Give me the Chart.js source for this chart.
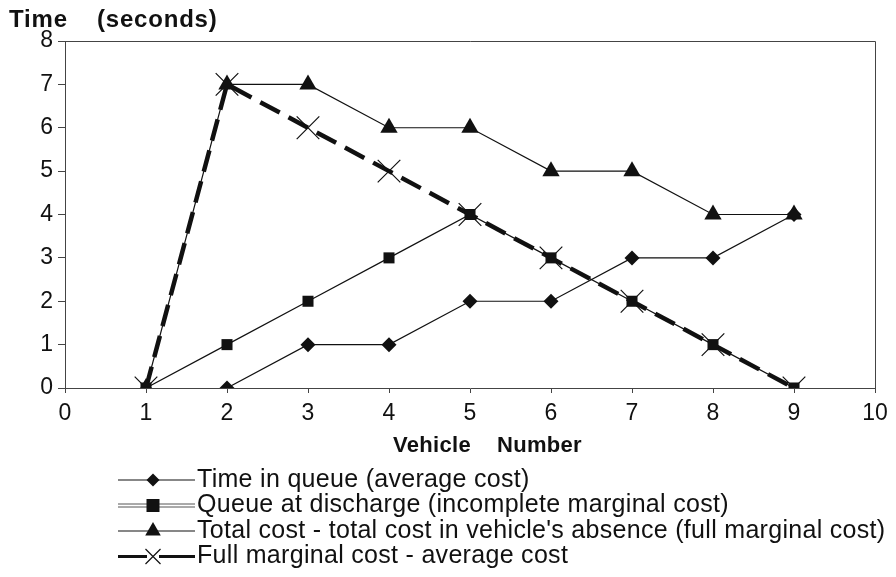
<!DOCTYPE html>
<html>
<head>
<meta charset="utf-8">
<script src="https://cdn.jsdelivr.net/npm/chart.js@4.4.0/dist/chart.umd.min.js"></script>
<style>
  html, body { margin: 0; padding: 0; background: #fff; }
  #wrap { width: 896px; height: 577px; }
</style>
</head>
<body>
<div id="wrap"><canvas id="queueChart" width="896" height="577"></canvas></div>
<script>
  // values
  const vehicles = [1, 2, 3, 4, 5, 6, 7, 8, 9];
  const timeInQueue = [null, 0, 1, 1, 2, 2, 3, 3, 4];
  const queueAtDischarge = [0, 1, 2, 3, 4, 3, 2, 1, 0];
  const fullMarginal = [0, 7, 7, 6, 6, 5, 5, 4, 4];
  const fullMinusAverage = [0, 7, 6, 5, 4, 3, 2, 1, 0];

  const xTicks = [0, 1, 2, 3, 4, 5, 6, 7, 8, 9, 10];
  const yTicks = [0, 1, 2, 3, 4, 5, 6, 7, 8];

  const seriesLabels = [
    'Time in queue (average cost)',
    'Queue at discharge (incomplete marginal cost)',
    "Total cost - total cost in vehicle's absence (full marginal cost)",
    'Full marginal cost - average cost'
  ];

  const FONT = "'Liberation Sans', Arial, Helvetica, sans-serif";

  function pts(values) {
    return vehicles.map((v, i) => ({ x: v, y: values[i] }));
  }

  // frame on top / right, axis titles, and the legend under the x title
  const decorations = {
    id: 'decorations',
    afterDraw(chart) {
      const ctx = chart.ctx;
      const a = chart.chartArea;
      ctx.save();
      ctx.strokeStyle = '#444';
      ctx.lineWidth = 1;
      ctx.beginPath();
      ctx.moveTo(a.left, a.top + 0.5);
      ctx.lineTo(a.right + 0.5, a.top + 0.5);
      ctx.lineTo(a.right + 0.5, a.bottom);
      ctx.stroke();

      ctx.fillStyle = '#111';
      ctx.font = 'bold 24px ' + FONT;
      ctx.textBaseline = 'alphabetic';
      ctx.textAlign = 'left';
      ctx.letterSpacing = '0.8px';
      ctx.fillText('Time', 9, 27);
      ctx.fillText('(seconds)', 97, 27);

      ctx.font = 'bold 22px ' + FONT;
      ctx.letterSpacing = '0.3px';
      ctx.fillText('Vehicle', 393, 452);
      ctx.fillText('Number', 497, 452);

      // legend
      const rows = [480, 505.5, 531, 556.5];
      const x0 = 118, x1 = 195, mx = 153;
      ctx.font = '25px ' + FONT;
      ctx.letterSpacing = '0.3px';
      ctx.textBaseline = 'middle';
      rows.forEach((y, i) => {
        ctx.strokeStyle = '#111';
        ctx.setLineDash([]);
        if (i === 1) {
          ctx.strokeStyle = '#555';
          ctx.lineWidth = 1;
          ctx.beginPath();
          ctx.moveTo(x0, y - 1.5); ctx.lineTo(x1, y - 1.5);
          ctx.moveTo(x0, y + 1.5); ctx.lineTo(x1, y + 1.5);
          ctx.stroke();
        } else {
          ctx.lineWidth = i === 3 ? 3 : 1.2;
          ctx.beginPath();
          ctx.moveTo(x0, y); ctx.lineTo(x1, y);
          ctx.stroke();
        }
        ctx.fillStyle = '#111';
        ctx.strokeStyle = '#111';
        ctx.lineWidth = 1.2;
        ctx.beginPath();
        if (i === 0) {
          const r = 6.5;
          ctx.moveTo(mx, y - r); ctx.lineTo(mx + r, y); ctx.lineTo(mx, y + r); ctx.lineTo(mx - r, y);
          ctx.closePath(); ctx.fill();
        } else if (i === 1) {
          ctx.rect(mx - 6.5, y - 6.5, 13, 13); ctx.fill();
        } else if (i === 2) {
          const r = 9;
          ctx.moveTo(mx, y - r);
          ctx.lineTo(mx + r * 0.866, y + r * 0.5);
          ctx.lineTo(mx - r * 0.866, y + r * 0.5);
          ctx.closePath(); ctx.fill();
        } else {
          ctx.fillStyle = '#fff';
          ctx.fillRect(mx - 6, y - 3, 12, 6);
          const d = 7.5;
          ctx.moveTo(mx - d, y - d); ctx.lineTo(mx + d, y + d);
          ctx.moveTo(mx + d, y - d); ctx.lineTo(mx - d, y + d);
          ctx.stroke();
        }
        ctx.fillStyle = '#111';
        ctx.fillText(seriesLabels[i], 197, y);
      });
      ctx.restore();
    }
  };

  document.addEventListener('DOMContentLoaded', function () {
    const ctx = document.getElementById('queueChart').getContext('2d');
    new Chart(ctx, {
      type: 'line',
      data: {
        datasets: [
          {
            label: seriesLabels[0],
            data: pts(timeInQueue),
            borderColor: '#111',
            backgroundColor: '#111',
            borderWidth: 1.2,
            pointStyle: 'rectRot',
            pointRadius: 7.5,
            pointBorderWidth: 0,
            spanGaps: false
          },
          {
            label: seriesLabels[1],
            data: pts(queueAtDischarge),
            borderColor: '#111',
            backgroundColor: '#111',
            borderWidth: 1.2,
            pointStyle: 'rect',
            pointRadius: 7.8,
            pointBorderWidth: 0
          },
          {
            label: seriesLabels[2],
            data: pts(fullMarginal),
            borderColor: '#111',
            backgroundColor: '#111',
            borderWidth: 1.2,
            pointStyle: 'triangle',
            pointRadius: 10,
            pointBorderWidth: 0
          },
          {
            label: seriesLabels[3],
            data: pts(fullMinusAverage),
            borderColor: '#111',
            backgroundColor: '#111',
            borderWidth: 4.5,
            borderDash: [22, 10],
            pointStyle: 'crossRot',
            pointRadius: 16,
            pointBorderWidth: 1.2
          }
        ]
      },
      options: {
        responsive: false,
        animation: false,
        events: [],
        layout: { padding: { left: 0, right: 21, top: 41, bottom: 119 } },
        plugins: {
          legend: { display: false },
          tooltip: { enabled: false },
          title: { display: false }
        },
        scales: {
          x: {
            type: 'linear',
            min: 0,
            max: 10,
            afterFit(scale) { scale.height = 70; },
            afterBuildTicks(scale) { scale.ticks = xTicks.map(v => ({ value: v })); },
            grid: { display: true, drawOnChartArea: false, drawTicks: true, tickLength: 5, color: '#444', lineWidth: 1 },
            border: { display: true, color: '#444', width: 1 },
            ticks: { color: '#111', font: { family: FONT, size: 23 }, padding: 7, maxRotation: 0, autoSkip: false },
            title: { display: false }
          },
          y: {
            type: 'linear',
            min: 0,
            max: 8,
            afterFit(scale) { scale.width = 65; },
            afterBuildTicks(scale) { scale.ticks = yTicks.map(v => ({ value: v })); },
            grid: { display: true, drawOnChartArea: false, drawTicks: true, tickLength: 7, color: '#444', lineWidth: 1 },
            border: { display: true, color: '#444', width: 1 },
            ticks: { color: '#111', font: { family: FONT, size: 23 }, padding: 5 }
          }
        }
      },
      plugins: [decorations]
    });
  });
</script>
</body>
</html>
